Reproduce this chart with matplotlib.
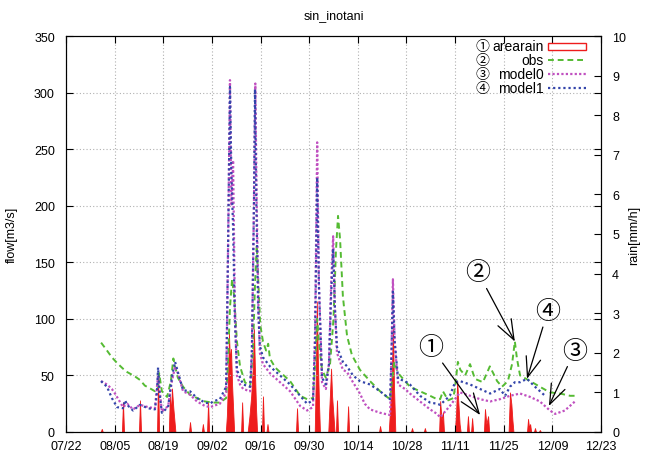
import matplotlib
matplotlib.use("Agg")
import matplotlib.pyplot as plt
from matplotlib.patches import Rectangle
from matplotlib.lines import Line2D

plt.rcParams['font.family'] = ['Liberation Sans', 'Noto Sans CJK JP', 'DejaVu Sans']

# ---- data (x = days since 07/22) ----
tick_days = [0, 14, 28, 42, 56, 70, 84, 98, 112, 126, 140, 154]
tick_labels = ['07/22', '08/05', '08/19', '09/02', '09/16', '09/30',
               '10/14', '10/28', '11/11', '11/25', '12/09', '12/23']

obs_day = [10.1, 11.8, 13.2, 14.7, 16.4, 17.6, 19.9, 21.3, 22.7, 24.5, 25.6, 26.5, 26.8, 27.6,
           29.1, 30.2, 30.9, 31.4, 32.2, 33.7, 35.7, 37.7, 40.0, 42.3, 44.3, 46.1, 46.6, 47.2,
           47.8, 48.4, 49.2, 50.1, 51.5, 53.0, 53.8, 54.4, 54.9, 55.4, 55.9, 56.7, 57.6, 58.2,
           58.7, 60.2, 61.6, 64.5, 67.4, 69.4, 71.1, 71.7, 72.3, 72.8, 73.7, 74.8, 76.0, 77.0,
           77.7, 78.3, 78.9, 79.7, 80.9, 82.3, 84.6, 87.5, 90.4, 92.4, 93.3, 93.8, 94.5, 95.6,
           97.6, 99.0, 101.9, 104.8, 106.8, 107.7, 108.5, 110.0, 111.5, 112.0, 112.8, 113.5,
           114.9, 116.3, 117.7, 120.0, 122.0, 124.1, 125.5, 127.2, 128.4, 129.2, 129.8, 130.7,
           133.6, 136.4, 139.3, 142.2, 145.1, 146.5]
obs_val = [79, 72, 66, 61, 56, 53, 49, 46, 41, 38, 36, 40, 52, 36,
           31, 45, 65, 58, 48, 40, 33, 30, 27, 26, 26, 30, 60, 110,
           135, 120, 80, 58, 44, 40, 70, 130, 165, 130, 95, 80, 72, 78,
           65, 57, 53, 45, 32, 29, 30, 60, 100, 80, 55, 48, 60, 100,
           160, 191, 170, 120, 85, 68, 55, 45, 36, 31, 29, 45, 62, 52,
           45, 40, 36, 32, 29, 29, 36, 28, 30, 40, 62, 55,
           50, 60, 47, 44, 58, 45, 40, 45, 60, 80, 65, 50,
           45, 40, 35, 34, 32, 32]

m1_day = [10.1, 10.4, 11.8, 13.2, 14.7, 16.4, 17.0, 17.6, 19.3, 21.3, 23.6, 25.6, 26.2, 26.5,
          26.9, 27.6, 29.4, 30.5, 31.4, 32.2, 33.7, 35.7, 37.7, 40.0, 41.5, 42.3, 44.3, 46.1,
          46.6, 47.2, 47.6, 48.1, 48.6, 49.2, 50.1, 51.0, 53.0, 53.5, 54.1, 54.4, 54.8, 55.3,
          55.8, 56.7, 58.7, 61.6, 64.5, 67.4, 69.4, 71.1, 71.7, 72.3, 72.8, 73.7, 74.8, 75.7,
          76.3, 76.9, 77.4, 78.0, 79.7, 80.9, 82.6, 84.6, 87.5, 90.4, 93.3, 93.7, 94.1, 94.6,
          95.6, 97.6, 99.0, 101.9, 104.8, 106.8, 107.7, 110.5, 112.0, 113.4, 116.3, 119.2,
          122.1, 124.9, 126.4, 127.8, 129.2, 130.7, 132.7, 135.0, 137.9]
m1_val = [45, 44, 40, 30, 22, 21, 28, 24, 19, 24, 21, 20, 35, 57,
          35, 17, 22, 49, 62, 53, 37, 36, 30, 26, 25, 27, 29, 40,
          150, 305, 230, 180, 100, 55, 48, 42, 40, 70, 200, 303, 200, 110,
          76, 66, 58, 50, 42, 32, 25, 28, 80, 225, 130, 48, 42, 60,
          120, 162, 110, 75, 62, 58, 50, 45, 42, 36, 29, 70, 124, 80,
          47, 45, 42, 32, 26, 25, 24, 32, 44, 45, 42, 38,
          34, 38, 32, 40, 44, 44, 47, 40, 32]

m0_day = [10.1, 11.8, 13.2, 14.1, 16.4, 17.6, 19.3, 21.3, 23.6, 25.6, 26.5, 27.6, 29.4, 30.5,
          31.4, 32.2, 33.7, 35.7, 37.7, 40.0, 41.5, 44.3, 46.1, 46.6, 47.2, 47.6, 48.1, 48.6,
          49.2, 50.1, 51.0, 53.0, 53.5, 54.1, 54.5, 54.9, 55.4, 55.8, 56.7, 58.7, 61.6, 64.5,
          67.4, 69.4, 71.1, 71.7, 72.3, 72.8, 73.7, 74.8, 75.7, 76.3, 76.9, 77.4, 78.0, 79.7,
          80.9, 82.6, 84.6, 86.0, 87.5, 90.4, 93.3, 93.7, 94.1, 94.6, 95.6, 97.6, 99.0, 101.9,
          104.8, 106.8, 107.7, 110.5, 113.4, 116.3, 119.2, 122.1, 124.9, 127.8, 130.7, 133.6,
          136.4, 139.3, 140.8, 143.6, 146.5]
m0_val = [45, 42, 38, 34, 22, 25, 20, 24, 22, 21, 50, 18, 23, 45,
          58, 52, 36, 33, 27, 23, 22, 25, 35, 150, 311, 200, 240, 110,
          50, 42, 38, 36, 70, 200, 308, 200, 110, 70, 60, 52, 44, 36,
          23, 19, 22, 90, 256, 130, 44, 38, 60, 130, 173, 110, 70, 55,
          53, 44, 34, 25, 20, 17, 15, 70, 135, 80, 42, 38, 34, 27,
          20, 16, 13, 23, 35, 32, 29, 27, 29, 32, 34, 31,
          27, 19, 16, 19, 27]

rain_day = [10.0, 10.3, 10.6, 16.1, 16.4, 16.7, 21.0, 21.3, 21.6, 26.2, 26.5, 26.8,
            29.6, 29.9, 30.2, 30.5, 30.9, 31.2, 31.5, 35.4, 35.7, 36.0, 39.1, 39.4, 39.7,
            40.6, 40.9, 41.2, 46.0, 46.3, 46.6, 46.9, 47.2, 47.5, 47.8, 48.1, 48.4,
            50.4, 50.7, 51.0, 52.3, 52.8, 53.3, 53.8, 54.1, 54.4, 54.7, 55.0,
            56.4, 56.7, 57.0, 57.7, 58.0, 58.3, 66.2, 66.5, 66.8,
            71.6, 71.9, 72.2, 72.5, 72.8, 73.1, 75.5, 75.9, 76.3, 76.6, 77.0, 77.3,
            77.7, 78.0, 78.3, 80.9, 81.2, 81.5, 90.1, 90.4, 90.7,
            92.9, 93.3, 93.8, 94.1, 94.4, 94.8, 99.3, 99.6, 99.9, 103.0, 103.3, 103.6,
            107.4, 107.7, 108.1, 108.5, 108.8, 111.9, 112.3, 112.6, 112.9, 113.3, 113.6,
            115.4, 115.7, 116.0, 116.6, 116.9, 117.2, 120.3, 120.6, 121.0, 121.5, 121.8,
            127.4, 127.8, 128.2, 128.5, 128.8, 132.7, 133.0, 133.3, 133.6, 133.9,
            134.7, 135.0, 135.3, 136.1, 136.4, 136.7]
rain_val = [0, 0.08, 0, 0, 0.75, 0, 0, 0.8, 0, 0, 1.4, 0,
            0, 0.9, 0.5, 1.1, 0.6, 0.3, 0, 0, 0.25, 0, 0, 0.2, 0,
            0, 0.75, 0, 0, 0.4, 1.2, 2.5, 1.8, 2.1, 1.2, 0.6, 0,
            0, 0.75, 0, 0, 0.4, 0.9, 1.7, 2.6, 1.5, 0.6, 0,
            0, 0.9, 0, 0, 0.2, 0, 0, 0.6, 0,
            0, 1.4, 3.3, 1.8, 0.8, 0, 0, 0.8, 1.6, 0.9, 0.4, 0,
            0, 0.8, 0, 0, 0.65, 0, 0, 0.15, 0,
            0, 0.6, 1.5, 2.7, 1.2, 0, 0, 0.1, 0, 0, 0.1, 0,
            0, 0.78, 0.3, 0.5, 0, 0, 0.5, 1.3, 0.8, 0.2, 0,
            0, 0.4, 0, 0, 0.35, 0, 0, 0.58, 0.2, 0.4, 0,
            0, 1.0, 0.7, 0.3, 0, 0, 0.33, 0.1, 0.2, 0,
            0, 0.1, 0, 0, 0.05, 0]

legend_marks = ['①', '②', '③', '④']
legend_names = ['arearain', 'obs', 'model0', 'model1']
ann_text = ['①', '②', '④', '③']
ann_tip_day = [119.2, 129.2, 132.7, 139.0]
ann_tip_val = [15, 80, 47, 23]
ann_txt_day = [105.1, 118.6, 138.7, 146.5]
ann_txt_val = [75, 141, 107, 72]

# ---- figure ----
W, H = 650, 452
L, R, T, B = 66, 601, 37, 433
fig = plt.figure(figsize=(W / 100, H / 100), dpi=100)
ax = fig.add_axes([L / W, 1 - B / H, (R - L) / W, (B - T) / H])
ax2 = ax.twinx()
ax.set_zorder(ax2.get_zorder() + 1)
ax.patch.set_visible(False)

red = '#ee1c1c'
green = '#55bb33'
pink = '#c050c0'
blue = '#3344aa'
styles = [None,
          dict(color=green, lw=1.4, ls=(0, (3, 2))),
          dict(color=pink, lw=1.6, ls=(0, (1, 1))),
          dict(color=blue, lw=1.6, ls=(0, (1, 1.3)))]

ax2.fill_between(rain_day, 0, rain_val, color=red, lw=0.6, edgecolor=red)
ax2.set_ylim(0, 10)
ax2.set_yticks(range(0, 11))
ax2.tick_params(direction='in', length=5, labelsize=9, pad=8)
ax2.set_ylabel('rain[mm/h]', fontsize=9)
ax2.yaxis.set_label_coords(1.05, 0.5)

ax.plot(obs_day, obs_val, **styles[1])
ax.plot(m0_day, m0_val, **styles[2])
ax.plot(m1_day, m1_val, **styles[3])

ax.set_xlim(0, 154)
ax.set_ylim(0, 350)
ax.set_xticks(tick_days)
ax.set_xticklabels(tick_labels)
ax.set_yticks(range(0, 351, 50))
ax.tick_params(direction='in', length=5, top=True, right=True, labelsize=9)
ax.tick_params(axis='x', pad=6)
ax.tick_params(axis='y', pad=8)
ax.grid(True, color='#b0b0b0', ls=(0, (1, 2)), lw=0.8)
ax.set_ylabel('flow[m3/s]', fontsize=9)
ax.yaxis.set_label_coords(-0.09, 0.5)
ax.set_title('sin_inotani', fontsize=9, pad=13)

# legend in gnuplot style: circled number, right-justified title, sample on the right
def fx(px):
    return (px - L) / (R - L)

def fy(py):
    return (B - py) / (B - T)

for i, (mk, nm) in enumerate(zip(legend_marks, legend_names)):
    ypx = 47 + 14 * i
    ax.text(fx(482), fy(ypx), mk, transform=ax.transAxes, ha='center', va='center',
            fontsize=10)
    ax.text(fx(544), fy(ypx), nm, transform=ax.transAxes, ha='right', va='center',
            fontsize=10)
    if i == 0:
        ax.add_patch(Rectangle((fx(548), fy(51)), fx(586) - fx(548), fy(44) - fy(51),
                               transform=ax.transAxes, facecolor='white',
                               edgecolor=red, lw=1, zorder=5))
    else:
        ax.add_line(Line2D([fx(548), fx(586)], [fy(ypx), fy(ypx)],
                           transform=ax.transAxes, **styles[i]))

for t, td, tv, xd, xv in zip(ann_text, ann_tip_day, ann_tip_val, ann_txt_day, ann_txt_val):
    ax.annotate(t, xy=(td, tv), xytext=(xd, xv), fontsize=18, ha='center', va='center',
                arrowprops=dict(arrowstyle='->,head_length=0.8,head_width=0.3',
                                color='black', lw=0.9, shrinkA=1, shrinkB=0))

fig.savefig('out.png', dpi=100)
